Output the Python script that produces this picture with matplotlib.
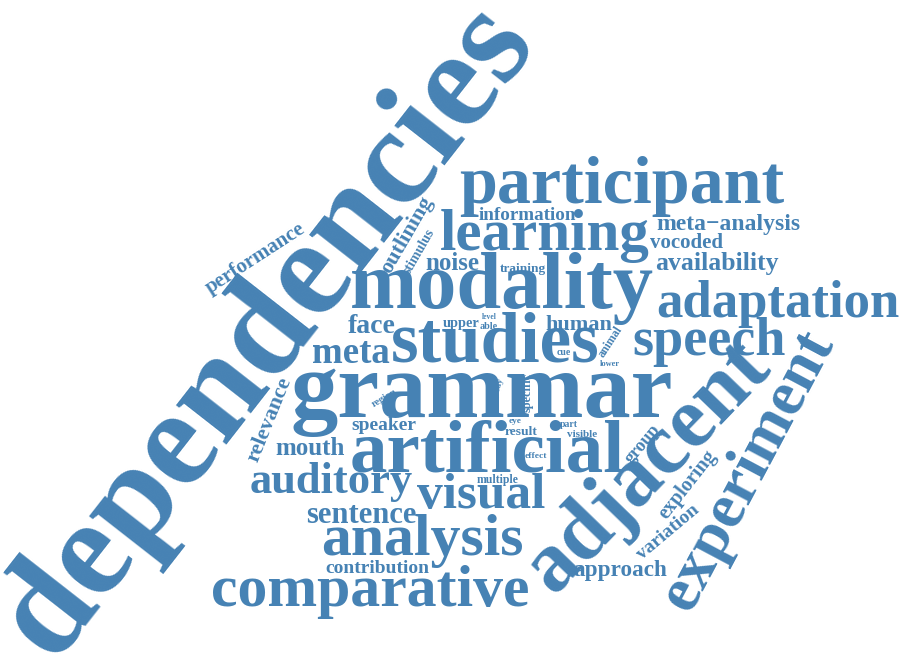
import matplotlib
matplotlib.use("Agg")
import matplotlib.pyplot as plt

# word frequencies (relative, drawn as font size in pt)
words = ["dependencies", "grammar", "modality", "adjacent", "artificial",
         "studies", "participant", "experiment", "comparative", "analysis",
         "learning", "speech", "adaptation", "visual", "auditory", "meta",
         "sentence", "face", "availability", "noise", "mouth", "meta\u2212analysis",
         "approach", "human", "relevance", "outlining", "performance",
         "vocoded", "exploring", "variation", "contribution", "speaker",
         "information", "group", "upper", "result", "stimulus", "training",
         "specific", "animal", "multiple", "visible", "able", "region",
         "series", "part", "cue", "effect", "eye", "study", "lower", "level"]
freq = [100, 68, 58, 62, 54, 51, 49, 46, 43, 43, 42.5, 39, 38, 37, 32, 26.6,
        22, 20, 18.5, 18, 18, 17, 16.7, 16, 16, 16, 15, 15, 14.5, 14, 14, 14,
        13.7, 13, 10.4, 9.7, 10, 9.6, 8.9, 8.5, 8.5, 8, 7.3, 7.4, 7, 7, 7,
        6.8, 6.7, 6.5, 6, 5.5]

# layout: x, y (pixels), rotation (deg); rotated words are centred,
# horizontal ones sit on their baseline
layout = {
    "dependencies": (268, 331, 52),
    "grammar": (482, 417, 0),
    "modality": (502, 308, 0),
    "adjacent": (648, 468, 46),
    "artificial": (487, 472, 0),
    "studies": (495, 361, 0),
    "participant": (622, 203, 0),
    "experiment": (749, 470, 62),
    "comparative": (370, 606, 0),
    "analysis": (422, 555, 0),
    "learning": (545, 250, 0),
    "speech": (709, 355, 0),
    "adaptation": (778, 317, 0),
    "visual": (481, 508, 0),
    "auditory": (331, 493, 0),
    "meta": (351, 363, 0),
    "sentence": (361, 523, 0),
    "face": (372, 333, 0),
    "availability": (717, 270, 0),
    "noise": (452, 270, 0),
    "mouth": (310, 455, 0),
    "meta\u2212analysis": (728, 230, 0),
    "approach": (620, 576, 0),
    "human": (579, 330, 0),
    "relevance": (270, 420, 68),
    "outlining": (407, 235, 60),
    "performance": (255, 258, 33),
    "vocoded": (687, 248, 0),
    "exploring": (688, 485, 52),
    "variation": (668, 532, 40),
    "contribution": (377, 573, 0),
    "speaker": (384, 430, 0),
    "information": (527, 220, 0),
    "group": (643, 444, 50),
    "upper": (461, 327, 0),
    "result": (521, 435, 0),
    "stimulus": (419, 251, 60),
    "training": (523, 272, 0),
    "specific": (528, 392, 90),
    "animal": (611, 342, 57),
    "multiple": (498, 483, 0),
    "visible": (582, 437, 0),
    "able": (489, 329, 0),
    "region": (385, 398, 30),
    "series": (469, 389, 90),
    "part": (569, 427, 0),
    "cue": (564, 355, 0),
    "effect": (536, 458, 0),
    "eye": (515, 423, 0),
    "study": (499, 388, 75),
    "lower": (610, 366, 0),
    "level": (489, 319, 0),
}

color = "#4682B4"

fig = plt.figure(figsize=(9, 6.61), dpi=100)
ax = fig.add_axes([0, 0, 1, 1])
ax.set_xlim(0, 900)
ax.set_ylim(661, 0)
ax.axis("off")

for w, f in zip(words, freq):
    x, y, rot = layout[w]
    if rot == 0:
        ax.text(x, y, w, fontsize=f, color=color, fontweight="bold",
                family=["Liberation Serif", "DejaVu Serif"],
                ha="center", va="baseline")
    else:
        ax.text(x, y, w, fontsize=f, color=color, fontweight="bold",
                family=["Liberation Serif", "DejaVu Serif"],
                ha="center", va="center", rotation=rot,
                rotation_mode="anchor")

fig.savefig("out.png", dpi=100, facecolor="white")
